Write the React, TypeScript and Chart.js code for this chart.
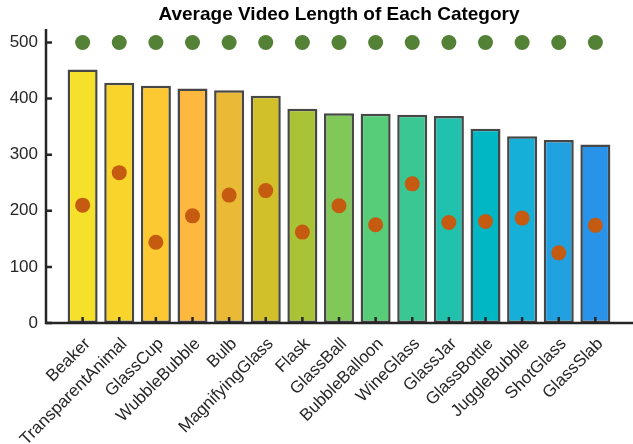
import React, { useEffect, useRef } from 'react';
import { Chart, registerables } from 'chart.js';

Chart.register(...registerables);

const categories = [
  'Beaker', 'TransparentAnimal', 'GlassCup', 'WubbleBubble', 'Bulb', 'MagnifyingGlass',
  'Flask', 'GlassBall', 'BubbleBalloon', 'WineGlass', 'GlassJar', 'GlassBottle',
  'JuggleBubble', 'ShotGlass', 'GlassSlab',
];
const avgLength = [452, 428, 423, 418, 415, 405, 382, 374, 373, 371, 369, 346, 333, 326, 318];
const orangeValues = [210, 268, 144, 191, 228, 236, 162, 209, 175, 248, 179, 181, 187, 125, 174];
const greenValues = [500, 500, 500, 500, 500, 500, 500, 500, 500, 500, 500, 500, 500, 500, 500];
const barColors = [
  '#F5E12A', '#F9D52C', '#FCC932', '#FDB83F', '#EAB935', '#D1C02A', '#A9C336', '#80C857',
  '#58CD78', '#3AC794', '#22C1AD', '#00B7C3', '#15AFD8', '#21A1E0', '#2893E8',
];
const yTicks = [0, 100, 200, 300, 400, 500];
const titleText = 'Average Video Length of Each Category';

const FONT = '"Liberation Sans", Arial, Helvetica, sans-serif';
const AXIS_COLOR = '#262626';

export default function App() {
  const ref = useRef<HTMLCanvasElement | null>(null);

  useEffect(() => {
    document.body.style.margin = '0';
    const canvas = ref.current;
    if (!canvas) return;

    const axesPlugin = {
      id: 'customAxes',
      afterLayout(chart: any) {
        const xs = chart.scales.x;
        const right = chart.width - 1;
        chart.chartArea.right = right;
        chart.chartArea.width = right - chart.chartArea.left;
        xs.right = right;
        xs.width = right - xs.left;
        xs.configure();
      },
      afterDatasetsDraw(chart: any) {
        const { ctx, chartArea } = chart;
        const xs = chart.scales.x;
        const ys = chart.scales.y;
        const { left, top, bottom } = chartArea;
        ctx.save();
        ctx.strokeStyle = AXIS_COLOR;
        ctx.lineWidth = 2.5;
        ctx.lineCap = 'butt';
        ctx.beginPath();
        ctx.moveTo(left, top);
        ctx.lineTo(left, bottom);
        ctx.moveTo(left - 1.25, bottom);
        ctx.lineTo(chart.width, bottom);
        ctx.stroke();
        ctx.beginPath();
        yTicks.forEach((v) => {
          const py = ys.getPixelForValue(v);
          ctx.moveTo(left, py);
          ctx.lineTo(left + 6, py);
        });
        categories.forEach((_, i) => {
          const px = xs.getPixelForValue(i);
          ctx.moveTo(px, bottom);
          ctx.lineTo(px, bottom - 6);
        });
        ctx.stroke();
        ctx.restore();
      },
      afterDraw(chart: any) {
        const { ctx, chartArea } = chart;
        ctx.save();
        ctx.fillStyle = '#000000';
        ctx.font = `bold 19px ${FONT}`;
        ctx.textAlign = 'center';
        ctx.textBaseline = 'middle';
        ctx.fillText(titleText, (chartArea.left + chartArea.right) / 2, 15);
        ctx.restore();
      },
    };

    const chart = new Chart(canvas, {
      type: 'bar',
      data: {
        datasets: [
          {
            type: 'scatter',
            data: greenValues.map((v, i) => ({ x: i, y: v })),
            backgroundColor: '#538135',
            borderColor: '#538135',
            borderWidth: 0,
            pointRadius: 7.5,
            order: 1,
          } as any,
          {
            type: 'scatter',
            data: orangeValues.map((v, i) => ({ x: i, y: v })),
            backgroundColor: '#C55A11',
            borderColor: '#C55A11',
            borderWidth: 0,
            pointRadius: 7.5,
            order: 1,
          } as any,
          {
            type: 'bar',
            data: avgLength.map((v, i) => ({ x: i, y: v })),
            backgroundColor: barColors,
            borderColor: '#474747',
            borderWidth: 2.5,
            borderSkipped: false,
            barPercentage: 0.82,
            categoryPercentage: 1,
            order: 2,
          } as any,
        ],
      },
      options: {
        responsive: false,
        animation: false,
        layout: { padding: { top: 29, right: 1, left: 0, bottom: 0 } },
        plugins: {
          legend: { display: false },
          tooltip: { enabled: false },
          title: { display: false },
        },
        scales: {
          x: {
            type: 'linear',
            min: -1,
            max: 15,
            offset: false,
            grid: { display: false, drawTicks: false },
            border: { display: false },
            afterBuildTicks: (scale: any) => {
              scale.ticks = categories.map((_, i) => ({ value: i }));
            },
            afterFit: (scale: any) => {
              scale.height = 121;
              scale.paddingLeft = 0;
              scale.paddingRight = 0;
            },
            ticks: {
              autoSkip: false,
              minRotation: 45,
              maxRotation: 45,
              padding: 11,
              labelOffset: 5,
              color: AXIS_COLOR,
              font: { family: FONT, size: 17 },
              callback: (v: any) => categories[Math.round(Number(v))] ?? '',
            },
          },
          y: {
            type: 'linear',
            min: 0,
            max: 524,
            grid: { display: false, drawTicks: false },
            border: { display: false },
            afterBuildTicks: (scale: any) => {
              scale.ticks = yTicks.map((v) => ({ value: v }));
            },
            afterFit: (scale: any) => {
              scale.width = 46;
              scale.paddingTop = 0;
              scale.paddingBottom = 0;
            },
            ticks: {
              padding: 8,
              color: AXIS_COLOR,
              font: { family: FONT, size: 17 },
            },
          },
        },
      },
      plugins: [axesPlugin],
    } as any);

    return () => chart.destroy();
  }, []);

  return (
    <div style={{ width: 633, height: 444 }}>
      <canvas ref={ref} width={633} height={444} />
    </div>
  );
}
